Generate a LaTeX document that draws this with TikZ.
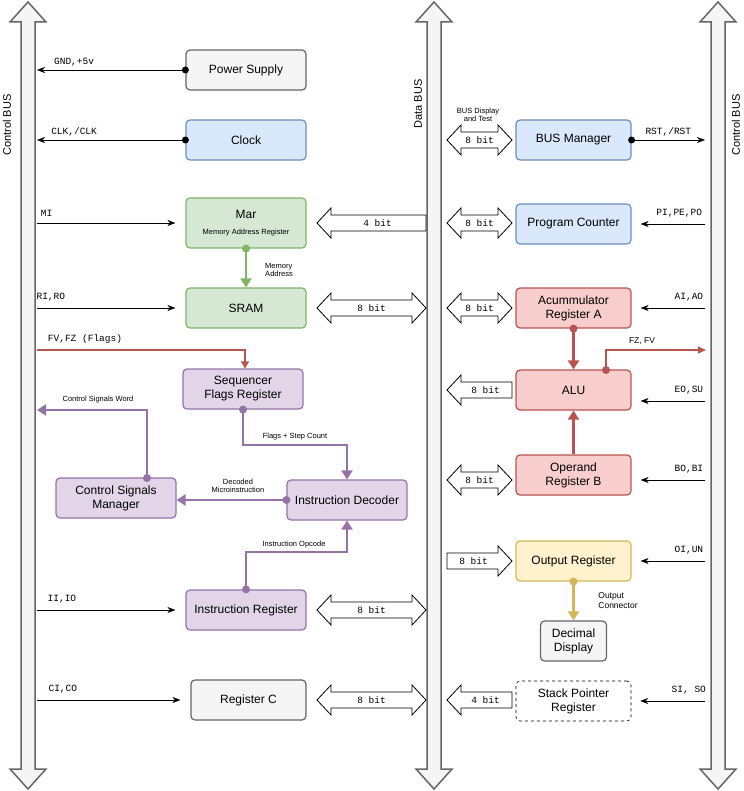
\documentclass[tikz,border=0pt]{standalone}
\usepackage{fontspec}
\setmainfont{Liberation Sans}
\newfontfamily\monofont{Liberation Mono}
\usetikzlibrary{arrows.meta}
\definecolor{grayF}{HTML}{F5F5F5}\definecolor{grayD}{HTML}{666666}
\definecolor{blueF}{HTML}{DAE8FC}\definecolor{blueD}{HTML}{6C8EBF}
\definecolor{greenF}{HTML}{D5E8D4}\definecolor{greenD}{HTML}{82B366}
\definecolor{redF}{HTML}{F8CECC}\definecolor{redD}{HTML}{B85450}
\definecolor{purpF}{HTML}{E1D5E7}\definecolor{purpD}{HTML}{9673A6}
\definecolor{yelF}{HTML}{FFF2CC}\definecolor{yelD}{HTML}{D6B656}
\tikzset{
  box/.style={draw, line width=1.2pt, rounded corners=4pt, align=center, font=\fontsize{12}{14}\selectfont},
  gbox/.style={box, draw=grayD, fill=grayF},
  bbox/.style={box, draw=blueD, fill=blueF},
  cbox/.style={box, draw=greenD, fill=greenF},
  rbox/.style={box, draw=redD, fill=redF},
  pbox/.style={box, draw=purpD, fill=purpF},
  ybox/.style={box, draw=yelD, fill=yelF},
  sig/.style={font=\monofont\fontsize{9.5}{10}\selectfont},
  tiny/.style={font=\fontsize{7.5}{8.5}\selectfont, align=center},
  wire/.style={-{Stealth[length=8pt,width=6pt]}},
  fat/.style={line width=2.2pt, -{Triangle[length=9pt,width=11pt]}},
  bus/.style={fill=grayF, draw=grayD, line width=1.5pt},
  blk/.style={fill=white, draw=black, line width=0.8pt},
  buslabel/.style={rotate=90, font=\fontsize{11}{13}\selectfont},
}
% block arrows: x1, x2, y, text
\newcommand{\dblarrow}[4]{%
  \draw[blk] (#1,#3)--(#1+14,#3-15)--(#1+14,#3-8)--(#2-14,#3-8)--(#2-14,#3-15)--(#2,#3)
    --(#2-14,#3+15)--(#2-14,#3+8)--(#1+14,#3+8)--(#1+14,#3+15)--cycle;
  \node[sig] at ({(#1+#2)/2},#3) {#4};}
\newcommand{\leftarrowblk}[4]{%
  \draw[blk] (#1,#3)--(#1+14,#3-15)--(#1+14,#3-8)--(#2,#3-8)--(#2,#3+8)--(#1+14,#3+8)--(#1+14,#3+15)--cycle;
  \node[sig] at ({(#1+#2)/2+6},#3) {#4};}
\newcommand{\rightarrowblk}[4]{%
  \draw[blk] (#2,#3)--(#2-14,#3-15)--(#2-14,#3-8)--(#1,#3-8)--(#1,#3+8)--(#2-14,#3+8)--(#2-14,#3+15)--cycle;
  \node[sig] at ({(#1+#2)/2-6},#3) {#4};}
\newcommand{\busbar}[1]{%
  \draw[bus] (#1,2)--(#1+18,22)--(#1+7,22)--(#1+7,769)--(#1+18,769)--(#1,789)
    --(#1-18,769)--(#1-7,769)--(#1-7,22)--(#1-18,22)--cycle;}
\begin{document}
\begin{tikzpicture}[x=1pt, y=-1pt]
	\useasboundingbox (0,0) rectangle (743,791);
	% buses
	\busbar{28} \busbar{434} \busbar{718}
	\node[buslabel] at (7,125) {Control BUS};
	\node[buslabel] at (418,104) {Data BUS};
	\node[buslabel] at (736,125) {Control BUS};

	% left column
	\node[gbox, minimum width=120, minimum height=40] (power) at (246,70) {Power Supply};
	\node[bbox, minimum width=120, minimum height=40] (clock) at (246,140) {Clock};
	\node[cbox, minimum width=120, minimum height=50] (mar) at (246,223) {Mar\\[2pt]{\fontsize{7.5}{9}\selectfont Memory Address Register}};
	\node[cbox, minimum width=120, minimum height=40] (sram) at (246,308) {SRAM};
	\node[pbox, minimum width=120, minimum height=40] (seq) at (243,389) {Sequencer\\Flags Register};
	\node[pbox, minimum width=120, minimum height=40] (csm) at (116,498) {Control Signals\\Manager};
	\node[pbox, minimum width=120, minimum height=40] (dec) at (347,500) {Instruction Decoder};
	\node[pbox, minimum width=120, minimum height=40] (ir) at (246,610) {Instruction Register};
	\node[gbox, minimum width=115, minimum height=40] (regc) at (248.5,700) {Register C};

	% right column
	\node[bbox, minimum width=115, minimum height=40] (busm) at (573.5,140) {BUS Manager};
	\node[bbox, minimum width=115, minimum height=40] (pc) at (573.5,224) {Program Counter};
	\node[rbox, minimum width=115, minimum height=40] (acc) at (573.5,308) {Acummulator\\Register A};
	\node[rbox, minimum width=115, minimum height=40] (alu) at (573.5,390) {ALU};
	\node[rbox, minimum width=115, minimum height=40] (opb) at (573.5,475) {Operand\\Register B};
	\node[ybox, minimum width=115, minimum height=40] (out) at (573.5,561) {Output Register};
	\node[gbox, minimum width=66, minimum height=40] (disp) at (573.5,641) {Decimal\\Display};
	\node[gbox, fill=white, draw=black, line width=0.6pt, dashed, minimum width=115, minimum height=40] (sp) at (573.5,701) {Stack Pointer\\Register};

	% block arrows to the data bus
	\leftarrowblk{317}{426}{223}{4 bit}
	\dblarrow{317}{426}{308}{8 bit}
	\dblarrow{317}{426}{610}{8 bit}
	\dblarrow{317}{426}{700}{8 bit}
	\dblarrow{447}{512}{140}{8 bit}
	\dblarrow{447}{512}{223}{8 bit}
	\dblarrow{447}{512}{308}{8 bit}
	\leftarrowblk{447}{512}{390}{8 bit}
	\dblarrow{447}{512}{480}{8 bit}
	\rightarrowblk{447}{512}{561}{8 bit}
	\leftarrowblk{447}{512}{700}{4 bit}
	\node[tiny] at (478,115) {BUS Display\\and Test};

	% control lines, left bus
	\coordinate (lgnd) at (37,70);  \coordinate (lclk) at (37,140);
	\coordinate (lmi) at (37,223);  \coordinate (lri) at (37,308);
	\coordinate (lfl) at (37,350);  \coordinate (lcw) at (37,410);
	\coordinate (lii) at (37,610);  \coordinate (lci) at (37,700);
	\fill (power.west) circle (3.5);
	\draw[wire] (power.west) -- (lgnd) node[sig, pos=0.75, above] {GND,+5v};
	\fill (clock.west) circle (3.5);
	\draw[wire] (clock.west) -- (lclk) node[sig, pos=0.75, above] {CLK,/CLK};
	\draw[wire] (lmi) -- ([xshift=-10]mar.west) node[sig, pos=0.07, above=3] {MI};
	\draw[wire] (lri) -- ([xshift=-10]sram.west) node[sig, pos=0.1, above=3] {RI,RO};
	\draw[wire] (lci) -- ([xshift=-10]regc.west) node[sig, pos=0.18, above=3] {CI,CO};
	\draw[wire] (lii) -- ([xshift=-10]ir.west) node[sig, pos=0.18, above=3] {II,IO};
	\draw[redD, line width=1.2pt, -{Triangle[length=7pt,width=8pt]}] (lfl) -- (245,350) -- (seq.north -| 245,0);
	\node[sig] at (85,339) {FV,FZ (Flags)};

	% internal paths
	\draw[greenD, fat] (mar.south) -- (sram.north);
	\fill[greenD] (mar.south) circle (4);
	\node[tiny, align=left] at (279,270) {Memory\\Address};
	\fill[purpD] (seq.south) circle (4);
	\draw[purpD, fat] (seq.south) -- (243,445) -- (347,445) -- (dec.north);
	\node[tiny] at (295,437) {Flags + Step Count};
	\fill[purpD] (dec.west) circle (4);
	\draw[purpD, fat] (dec.west) -- (csm.east |- dec.west);
	\node[tiny] at (238,486) {Decoded\\Microinstruction};
	\fill[purpD] (147,478) circle (4);
	\draw[purpD, fat] (147,478) -- (147,410) -- (lcw);
	\node[tiny] at (98,400) {Control Signals Word};
	\fill[purpD] (ir.north) circle (4);
	\draw[purpD, fat] (ir.north) -- (246,552) -- (347,552) -- (dec.south);
	\node[tiny] at (294,545) {Instruction Opcode};

	% control lines, right bus
	\coordinate (rrst) at (705,140); \coordinate (rpc) at (705,224);
	\coordinate (rai) at (705,308);  \coordinate (rfz) at (706,350);
	\coordinate (reo) at (705,401);  \coordinate (rbo) at (705,480);
	\coordinate (roi) at (705,561);  \coordinate (rsi) at (705,701);
	\fill (busm.east) circle (3.5);
	\draw[wire] (busm.east) -- (rrst) node[sig, midway, above] {RST,/RST};
	\draw[wire] (rpc) -- ([xshift=9]pc.east) node[sig, pos=0.4, above=3] {PI,PE,PO};
	\draw[wire] (rai) -- ([xshift=9]acc.east) node[sig, pos=0.25, above=3] {AI,AO};
	\draw[wire] (reo) -- ([xshift=9]alu.east |- reo) node[sig, pos=0.25, above=3] {EO,SU};
	\draw[wire] (rbo) -- ([xshift=9]opb.east |- rbo) node[sig, pos=0.25, above=3] {BO,BI};
	\draw[wire] (roi) -- ([xshift=9]out.east) node[sig, pos=0.25, above=3] {OI,UN};
	\draw[wire] (rsi) -- ([xshift=9]sp.east |- rsi) node[sig, pos=0.25, above=3] {SI, SO};
	\fill[redD] (acc.south) circle (4);
	\draw[redD, fat] (acc.south) -- (alu.north);
	\draw[redD, fat] (opb.north) -- (alu.south);
	\fill[redD] (606,370) circle (4);
	\draw[redD, line width=1.2pt, -{Triangle[length=8pt,width=7pt]}] (606,370) -- (606,350) -- (rfz);
	\node[font=\fontsize{8.5}{10}\selectfont] at (642,341) {FZ, FV};
	\fill[yelD] (out.south) circle (4);
	\draw[yelD, fat] (out.south) -- (disp.north);
	\node[font=\fontsize{8.5}{10}\selectfont, align=left] at (618,601) {Output\\Connector};
\end{tikzpicture}
\end{document}
